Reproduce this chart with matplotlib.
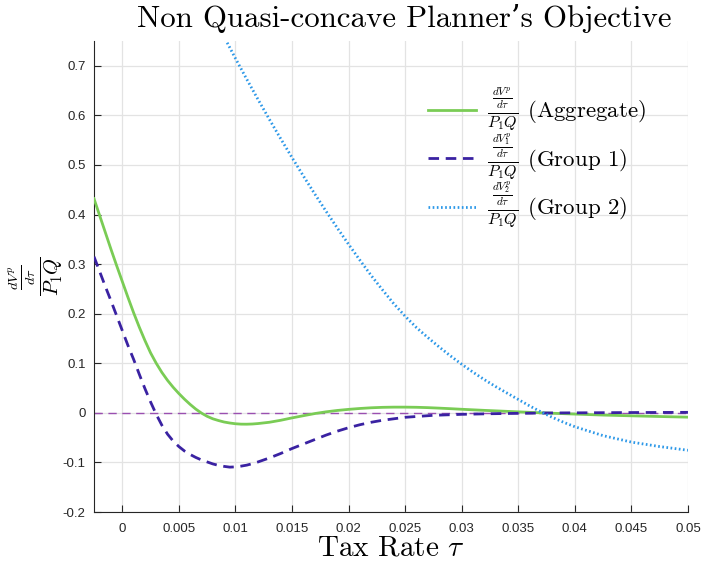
import numpy as np
import matplotlib
matplotlib.use("Agg")
import matplotlib.pyplot as plt

# values
agg_x = [-0.0025, -0.002, -0.0015, -0.001, -0.0005, 0.0, 0.0005, 0.001, 0.0015, 0.002, 0.0025,
         0.003, 0.0035, 0.004, 0.0045, 0.005, 0.0055, 0.006, 0.0065, 0.007, 0.0075, 0.008,
         0.0085, 0.009, 0.0095, 0.010, 0.0105, 0.011, 0.0115, 0.012, 0.013, 0.014, 0.015,
         0.016, 0.017, 0.018, 0.019, 0.020, 0.021, 0.022, 0.023, 0.024, 0.025, 0.026, 0.027,
         0.028, 0.029, 0.030, 0.032, 0.034, 0.036, 0.038, 0.040, 0.0425, 0.045, 0.0475, 0.050]
agg_y = [0.432, 0.398, 0.364, 0.330, 0.297, 0.265, 0.233, 0.202, 0.173, 0.146, 0.121,
         0.100, 0.0815, 0.0655, 0.0515, 0.039, 0.0275, 0.017, 0.0075, -0.0005, -0.007, -0.012,
         -0.0155, -0.0185, -0.0205, -0.0220, -0.0228, -0.0229, -0.0225, -0.0216, -0.0190, -0.0150, -0.0102,
         -0.0058, -0.0015, 0.0020, 0.0048, 0.0070, 0.0088, 0.0102, 0.0111, 0.0115, 0.0115, 0.0112, 0.0105,
         0.0095, 0.0084, 0.0072, 0.0050, 0.0030, 0.0010, -0.0008, -0.0025, -0.0045, -0.0060, -0.0074, -0.0087]

g1_x = [-0.0025, -0.002, -0.0015, -0.001, -0.0005, 0.0, 0.0005, 0.001, 0.0015, 0.002, 0.0025,
        0.003, 0.0035, 0.004, 0.0045, 0.005, 0.0055, 0.006, 0.0065, 0.007, 0.0075, 0.008,
        0.0085, 0.009, 0.0095, 0.010, 0.0105, 0.011, 0.0115, 0.012, 0.013, 0.014, 0.015,
        0.016, 0.017, 0.018, 0.019, 0.020, 0.021, 0.022, 0.023, 0.024, 0.025, 0.0275, 0.030,
        0.0325, 0.035, 0.0375, 0.040, 0.045, 0.050]
g1_y = [0.315, 0.285, 0.255, 0.226, 0.196, 0.166, 0.136, 0.108, 0.078, 0.049, 0.022,
        -0.003, -0.025, -0.043, -0.057, -0.068, -0.077, -0.084, -0.090, -0.095, -0.099, -0.103,
        -0.106, -0.108, -0.1095, -0.109, -0.1075, -0.1055, -0.1025, -0.099, -0.091, -0.082, -0.072,
        -0.063, -0.054, -0.045, -0.037, -0.030, -0.024, -0.019, -0.015, -0.012, -0.009, -0.005, -0.003,
        -0.0018, -0.001, -0.0003, 0.0, 0.0006, 0.001]

g2_x = [0.0091, 0.010, 0.011, 0.012, 0.013, 0.014, 0.015, 0.016, 0.017, 0.018, 0.019, 0.020,
        0.021, 0.022, 0.023, 0.024, 0.025, 0.026, 0.027, 0.028, 0.029, 0.030, 0.031, 0.032,
        0.033, 0.034, 0.035, 0.036, 0.037, 0.038, 0.039, 0.040, 0.0425, 0.045, 0.0475, 0.050]
g2_y = [0.754, 0.715, 0.673, 0.632, 0.592, 0.553, 0.515, 0.478, 0.442, 0.407, 0.373, 0.340,
        0.308, 0.277, 0.248, 0.220, 0.195, 0.172, 0.152, 0.133, 0.115, 0.098, 0.082, 0.067,
        0.053, 0.040, 0.027, 0.014, 0.002, -0.009, -0.019, -0.028, -0.046, -0.059, -0.068, -0.0755]

xticks = [0, 0.005, 0.01, 0.015, 0.02, 0.025, 0.03, 0.035, 0.04, 0.045, 0.05]
xtick_labels = ["0", "0.005", "0.01", "0.015", "0.02", "0.025", "0.03", "0.035", "0.04", "0.045", "0.05"]
yticks = [-0.2, -0.1, 0, 0.1, 0.2, 0.3, 0.4, 0.5, 0.6, 0.7]
ytick_labels = ["-0.2", "-0.1", "0", "0.1", "0.2", "0.3", "0.4", "0.5", "0.6", "0.7"]

labels = [r"$\frac{\frac{dV^p}{d\tau}}{P_1Q}$ (Aggregate)",
          r"$\frac{\frac{dV^p_1}{d\tau}}{P_1Q}$ (Group 1)",
          r"$\frac{\frac{dV^p_2}{d\tau}}{P_1Q}$ (Group 2)"]

plt.rcParams['mathtext.fontset'] = 'cm'
plt.rcParams['axes.unicode_minus'] = False
serif = ['cmr10', 'DejaVu Serif']

fig = plt.figure(figsize=(7.02, 5.67), dpi=100)
ax = fig.add_axes([0.1339, 0.097, 0.980 - 0.1339, 0.9277 - 0.097])

ax.axhline(0, color='#9A4FB0', lw=1.0, ls=(0, (6, 4)), zorder=1)
ax.plot(agg_x, agg_y, color='#7ACC55', lw=2.0, label=labels[0], zorder=3)
ax.plot(g1_x, g1_y, color='#3A22A2', lw=2.0, ls=(0, (3.8, 2.4)), label=labels[1], zorder=3)
ax.plot(g2_x, g2_y, color='#2C98E8', lw=2.0, ls=(0, (0.6, 0.9)), label=labels[2], zorder=3)

ax.set_xlim(-0.0025, 0.05)
ax.set_ylim(-0.2, 0.75)
ax.set_xticks(xticks)
ax.set_xticklabels(xtick_labels)
ax.set_yticks(yticks)
ax.set_yticklabels(ytick_labels)
for t in ax.get_xticklabels() + ax.get_yticklabels():
    t.set_fontfamily('Liberation Sans')
    t.set_fontsize(9.5)
    t.set_color('#262626')
ax.tick_params(direction='in', length=5, width=0.8, color='#262626')
ax.tick_params(axis='y', pad=6)
ax.tick_params(axis='x', pad=8)

ax.grid(True, color='#E3E3E3', lw=0.9)
ax.set_axisbelow(True)
ax.spines['top'].set_visible(False)
ax.spines['right'].set_visible(False)
ax.spines['left'].set_color('#262626')
ax.spines['bottom'].set_color('#262626')

ax.set_title("Non Quasi-concave Planner\u2019s Objective", fontfamily=serif, fontsize=22.2, pad=10, x=0.522)
ax.set_xlabel(r"Tax Rate $\tau$", fontfamily=serif, fontsize=21)
ax.xaxis.set_label_coords(0.5, -0.05)
ax.set_ylabel(r"$\frac{\frac{dV^p}{d\tau}}{P_1Q}$", fontsize=21)
ax.yaxis.set_label_coords(-0.047, 0.5)

leg = ax.legend(loc='upper right', bbox_to_anchor=(0.945, 0.925), frameon=False,
                prop={'family': serif, 'size': 16.5}, handlelength=2.1,
                labelspacing=-0.1, handletextpad=0.5, borderaxespad=0)

fig.savefig("out.png", dpi=100)
